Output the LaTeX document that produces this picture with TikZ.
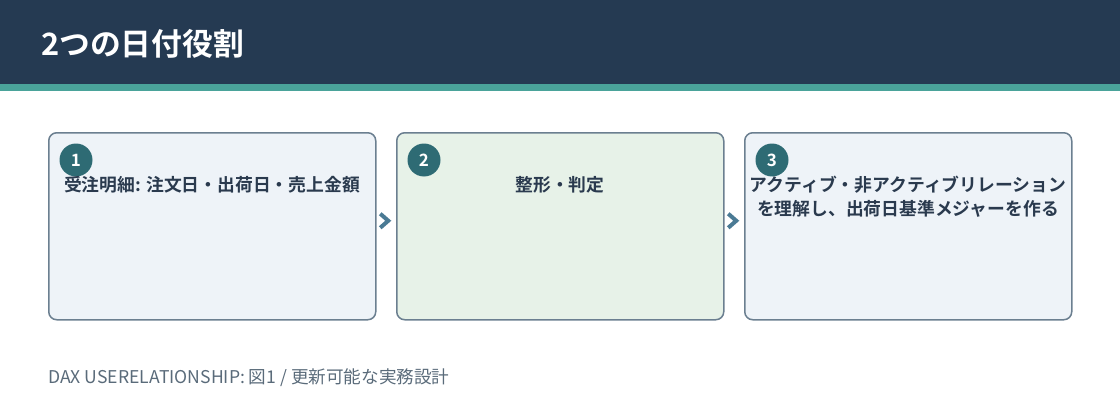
\documentclass[tikz,border=0pt]{standalone}
\usepackage{fontspec}
\setmainfont{Noto Sans CJK JP}
\newfontfamily\cjkb{Noto Sans CJK JP Bold}
\usetikzlibrary{calc}
\definecolor{navy}{HTML}{253A52}
\definecolor{teal}{HTML}{4AA39A}
\definecolor{boxline}{HTML}{6B7F90}
\definecolor{bluefill}{HTML}{EEF3F8}
\definecolor{greenfill}{HTML}{E7F2E8}
\definecolor{badge}{HTML}{2E6B74}
\definecolor{txt}{HTML}{2A3A4E}
\definecolor{chev}{HTML}{4A7A94}
\definecolor{foot}{HTML}{5A6B7A}
\tikzset{
  stepbox/.style={draw=boxline, line width=1.5pt, rounded corners=8pt, minimum width=327pt, minimum height=187pt, anchor=north west},
  badgecirc/.style={circle, fill=badge, minimum size=33pt, inner sep=0pt, text=white, font=\cjkb\fontsize{17}{17}\selectfont},
  boxtext/.style={text=txt, font=\cjkb\fontsize{17.8}{24}\selectfont, align=center},
  chevron/.style={draw=chev, line width=4pt, miter limit=10},
}
\begin{document}
\begin{tikzpicture}[x=1pt,y=-1pt]
\useasboundingbox (0,0) rectangle (1120,420);
\fill[navy] (0,0) rectangle (1120,84);
\fill[teal] (0,84) rectangle (1120,91);
\node[anchor=west, text=white, font=\cjkb\fontsize{30.8}{34}\selectfont, inner sep=0pt] (title) at (41,44) {2つの日付役割};

\node[stepbox, fill=bluefill] (b1) at (48,132) {};
\node[stepbox, fill=greenfill] (b2) at (396,132) {};
\node[stepbox, fill=bluefill] (b3) at (744,132) {};

\node[badgecirc] (c1) at (76,160) {1};
\node[badgecirc] (c2) at (424,160) {2};
\node[badgecirc] (c3) at (772,160) {3};

\node[boxtext] (t1) at (212,185) {受注明細: 注文日・出荷日・売上金額};
\node[boxtext] (t2) at (560,185) {整形・判定};
\node[boxtext] (t3) at (908,197) {アクティブ・非アクティブリレーション\\を理解し、出荷日基準メジャーを作る};

\coordinate (a1) at ($(b1.east)!0.5!(b2.west)+(-1,-5.5)$);
\coordinate (a2) at ($(b2.east)!0.5!(b3.west)+(-1,-5.5)$);
\draw[chevron] ($(a1)+(-5,-7)$) -- ($(a1)+(3,0)$) -- ($(a1)+(-5,7)$);
\draw[chevron] ($(a2)+(-5,-7)$) -- ($(a2)+(3,0)$) -- ($(a2)+(-5,7)$);

\node[anchor=west, text=foot, font=\fontsize{17.6}{19}\selectfont, inner sep=0pt] (footer) at (48,378) {DAX USERELATIONSHIP: 図1 / 更新可能な実務設計};
\end{tikzpicture}
\end{document}
